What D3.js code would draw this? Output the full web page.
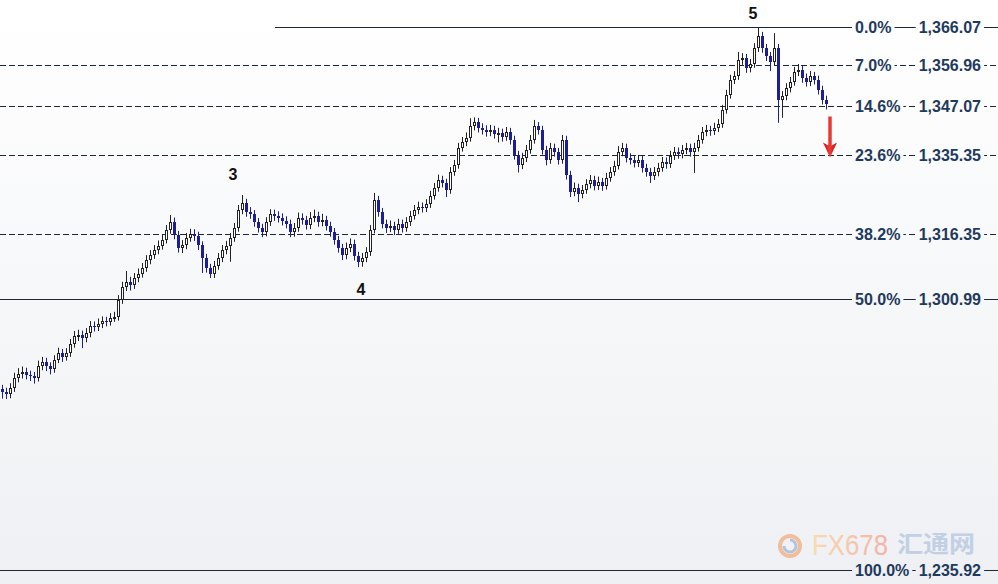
<!DOCTYPE html>
<html><head><meta charset="utf-8">
<script src="https://cdn.jsdelivr.net/npm/d3@7"></script>
<style>html,body{margin:0;padding:0;background:#fff;overflow:hidden}svg{display:block}</style>
</head><body><svg id="chart" width="998" height="584"></svg>
<script>
// ---- data ----
const firstOpen = 1279.2;
const closes = [1278.6,1278.1,1279.5,1281.9,1282.9,1283.4,1282.7,1282.4,1281.9,1284.8,
1285.8,1284.8,1284.1,1286.3,1287.9,1287.0,1287.9,1290.1,1292.0,1292.2,
1291.5,1292.7,1294.4,1294.2,1294.9,1295.6,1295.4,1296.3,1296.6,1300.6,
1303.8,1304.9,1304.2,1305.9,1306.9,1308.3,1310.2,1311.4,1312.6,1313.6,
1315.0,1317.4,1319.3,1316.2,1313.1,1313.8,1315.5,1316.5,1316.0,1313.8,
1310.7,1308.3,1306.9,1308.8,1310.7,1312.6,1313.6,1315.5,1317.9,1322.2,
1323.9,1321.7,1321.2,1319.3,1317.9,1316.9,1319.3,1321.2,1320.8,1320.3,
1319.6,1318.9,1316.9,1317.9,1320.3,1319.8,1318.6,1320.3,1320.8,1319.3,
1319.8,1318.4,1316.9,1315.0,1313.1,1311.4,1313.1,1314.1,1311.2,1309.7,
1310.7,1312.1,1317.4,1324.6,1321.7,1318.9,1317.9,1318.4,1317.4,1318.9,
1317.9,1319.3,1320.8,1322.2,1322.9,1322.7,1323.6,1325.6,1327.5,1329.4,
1328.7,1327.0,1331.3,1333.0,1337.1,1338.5,1339.5,1342.3,1343.3,1341.9,
1341.4,1340.9,1341.4,1340.4,1340.7,1339.7,1340.9,1339.0,1335.4,1333.0,
1334.7,1336.6,1339.0,1342.3,1341.4,1336.6,1334.2,1337.1,1336.1,1334.2,
1339.0,1330.6,1326.5,1327.5,1326.0,1327.0,1328.4,1329.4,1328.0,1328.9,
1328.0,1329.9,1331.3,1332.8,1336.1,1337.1,1334.7,1334.2,1333.5,1334.2,
1332.3,1331.3,1330.4,1331.3,1332.3,1333.7,1333.2,1335.2,1336.1,1335.6,
1336.6,1337.1,1336.1,1337.1,1339.0,1340.9,1341.4,1341.1,1341.9,1342.8,
1346.2,1349.8,1353.4,1354.3,1358.2,1358.6,1356.2,1357.2,1361.0,1363.9,
1361.0,1359.1,1357.7,1361.0,1348.6,1349.5,1351.4,1352.9,1355.3,1355.8,
1353.8,1352.9,1354.3,1353.4,1351.0,1348.6,1347.6];
const highs = [1280.3,1279.6,1280.7,1283.2,1284.3,1284.7,1284.4,1283.7,1283.4,1286.1,
1287.0,1286.8,1285.7,1287.4,1289.2,1288.9,1289.1,1291.3,1293.2,1293.5,
1293.3,1293.9,1295.6,1295.5,1296.2,1296.7,1296.6,1297.5,1297.8,1301.8,
1305.0,1307.6,1306.2,1307.1,1308.2,1309.5,1311.4,1312.6,1313.8,1314.9,
1316.3,1318.6,1321.0,1320.4,1317.2,1315.0,1316.7,1317.7,1317.6,1317.0,
1314.7,1311.7,1309.3,1310.0,1311.9,1313.8,1314.8,1316.7,1319.1,1323.4,
1325.8,1324.9,1322.9,1322.2,1320.3,1318.9,1320.5,1322.4,1322.3,1321.9,
1321.4,1320.7,1319.9,1319.1,1321.6,1321.4,1320.8,1321.7,1322.3,1321.8,
1321.3,1320.8,1319.4,1317.9,1316.0,1314.1,1314.4,1315.4,1315.1,1312.2,
1311.9,1313.3,1318.6,1326.3,1325.6,1322.7,1319.9,1319.7,1319.4,1320.1,
1319.9,1320.5,1322.0,1323.4,1324.2,1324.0,1324.8,1326.8,1328.7,1330.7,
1330.4,1329.7,1332.5,1334.2,1338.3,1339.7,1340.8,1344.2,1344.4,1344.3,
1343.0,1342.5,1342.6,1342.4,1341.9,1341.7,1342.1,1341.9,1340.0,1336.4,
1335.9,1337.8,1340.2,1343.8,1343.3,1342.4,1337.6,1338.3,1338.1,1337.1,
1340.2,1340.0,1331.6,1328.8,1328.5,1328.2,1329.6,1330.6,1330.4,1330.2,
1329.9,1331.1,1332.5,1334.0,1337.5,1338.3,1338.1,1335.8,1335.3,1335.4,
1335.2,1333.3,1332.3,1332.5,1333.5,1334.9,1334.8,1336.4,1337.3,1337.2,
1337.8,1338.3,1338.1,1338.3,1340.2,1342.1,1342.6,1342.4,1343.1,1344.0,
1347.4,1351.0,1354.6,1355.5,1360.1,1359.8,1359.6,1358.4,1362.2,1366.07,
1364.9,1362.0,1360.1,1364.6,1362.0,1350.7,1352.6,1354.1,1356.5,1357.2,
1356.8,1354.9,1355.5,1355.3,1354.4,1352.0,1349.6];
const lows = [1277.0,1276.9,1277.1,1278.6,1280.9,1281.8,1281.6,1281.2,1280.6,1281.1,
1283.8,1283.6,1282.8,1283.2,1285.5,1285.8,1286.1,1287.0,1289.2,1290.8,
1289.1,1290.5,1291.7,1293.1,1293.2,1293.9,1294.3,1294.5,1295.4,1295.7,
1299.7,1302.8,1302.9,1303.3,1304.9,1306.0,1307.4,1309.2,1310.5,1311.6,
1312.7,1314.2,1316.5,1315.2,1312.0,1311.9,1312.8,1314.6,1314.8,1312.6,
1307.1,1307.2,1305.9,1305.9,1307.9,1309.7,1311.6,1309.8,1314.6,1317.0,
1321.2,1320.6,1320.1,1318.2,1316.8,1315.7,1315.9,1318.4,1319.6,1319.2,
1318.5,1317.8,1315.7,1315.8,1317.0,1318.7,1317.5,1317.6,1319.3,1318.2,
1318.3,1317.3,1315.8,1313.9,1312.0,1310.2,1310.4,1312.1,1310.1,1308.5,
1308.6,1309.7,1311.2,1316.6,1320.6,1317.8,1316.7,1316.9,1316.2,1316.5,
1316.8,1317.0,1318.4,1319.9,1321.2,1321.6,1321.7,1322.7,1324.7,1326.6,
1327.6,1325.3,1326.1,1330.4,1332.1,1336.2,1337.5,1338.6,1341.3,1340.8,
1340.3,1339.8,1339.9,1339.3,1338.4,1338.6,1338.8,1337.9,1334.3,1331.2,
1332.0,1333.7,1335.7,1338.1,1340.3,1335.5,1332.9,1333.3,1335.0,1333.1,
1333.3,1329.5,1325.3,1325.5,1324.1,1325.0,1326.1,1327.4,1326.9,1327.0,
1326.8,1327.1,1329.0,1330.4,1331.9,1335.1,1333.6,1333.1,1332.4,1332.5,
1331.2,1330.2,1328.7,1329.4,1330.3,1331.4,1332.1,1332.3,1334.2,1334.5,
1334.6,1335.6,1335.0,1331.1,1336.2,1338.1,1339.9,1340.0,1340.2,1340.9,
1341.9,1345.3,1348.9,1352.4,1353.4,1357.0,1355.1,1355.2,1356.3,1360.1,
1359.9,1357.9,1355.5,1356.8,1343.1,1344.3,1348.5,1350.4,1352.0,1354.3,
1352.7,1351.8,1351.9,1352.3,1349.9,1347.5,1346.3];
const fibLabels = ["0.0%","7.0%","14.6%","23.6%","38.2%","50.0%","100.0%"];
const fibPrices = [1366.07,1356.96,1347.07,1335.35,1316.35,1300.99,1235.92];
const fibValueLabels = ["1,366.07","1,356.96","1,347.07","1,335.35","1,316.35","1,300.99","1,235.92"];
const waveNames = ["3","4","5"];
const waveCandles = [58,90,188];
const arrowPrices = [1344.6,1334.8];

// ---- build ----
const W = 998, H = 584;
const svg = d3.select("#chart");
const defs = svg.append("defs");
const bgTop = "#ffffff", bgBottom = "#eef0f3";
const bgGrad = defs.append("linearGradient").attr("id","bg").attr("x1",0).attr("y1",0).attr("x2",0).attr("y2",1);
bgGrad.append("stop").attr("offset",0).attr("stop-color",bgTop);
bgGrad.append("stop").attr("offset",1).attr("stop-color",bgBottom);
const bgAt = y => d3.interpolateRgb(bgTop,bgBottom)(y/H);
svg.append("rect").attr("width",W).attr("height",H).attr("fill","url(#bg)");

const N = closes.length;
const opens = closes.map((c,i)=> i===0 ? firstOpen : closes[i-1]);
const candles = closes.map((c,i)=>({i, o:opens[i], h:highs[i], l:lows[i], c}));

const x = d3.scaleLinear().domain([0,N-1]).range([2,826]);
const y = d3.scaleLinear().domain([fibPrices[6], fibPrices[0]]).range([570,27]);

// fib lines
const lineColor = "#1c2836";
const lineStart = [275,0,0,0,0,0,0];
const dashed = [false,true,true,true,true,false,false];
const gL = svg.append("g");
fibPrices.forEach((p,k)=>{
  const yy = Math.round(y(p))+0.5;
  gL.append("line").attr("x1",lineStart[k]).attr("x2",W).attr("y1",yy).attr("y2",yy)
    .attr("stroke",lineColor).attr("stroke-width",1)
    .attr("stroke-dasharray",dashed[k]?"6,3":null);
});

// candles
const bull = "#222222", bear = "#1d1d96";
const gC = svg.append("g");
candles.forEach(d=>{
  const cx = Math.round(x(d.i));
  const up = d.c >= d.o;
  const col = up ? bull : bear;
  gC.append("line").attr("x1",cx+0.5).attr("x2",cx+0.5)
    .attr("y1",y(d.h)).attr("y2",y(d.l)).attr("stroke",col).attr("stroke-width",1);
  const top = Math.round(y(Math.max(d.o,d.c)));
  const bot = Math.round(y(Math.min(d.o,d.c)));
  const hgt = Math.max(1,bot-top);
  if(up){
    gC.append("rect").attr("x",cx-0.5).attr("y",top+0.5).attr("width",2).attr("height",Math.max(1,hgt-1))
      .attr("fill","#ffffff").attr("stroke",bull).attr("stroke-width",1);
  } else {
    gC.append("rect").attr("x",cx-1).attr("y",top).attr("width",3).attr("height",hgt)
      .attr("fill",bear);
  }
});

// labels on lines
const labelColor = "#1f3a5c";
const gT = svg.append("g").attr("font-family","'Liberation Sans', Arial, sans-serif")
  .attr("font-weight","bold").attr("font-size","16px").attr("fill",labelColor);
fibPrices.forEach((p,k)=>{
  const yy = Math.round(y(p))+0.5;
  const t1 = gT.append("text").attr("x",855).attr("y",yy).attr("dy","0.36em").text(fibLabels[k]);
  const t2 = gT.append("text").attr("x",981).attr("y",yy).attr("dy","0.36em").attr("text-anchor","end").text(fibValueLabels[k]);
  [t1,t2].forEach(t=>{
    const b = t.node().getBBox();
    gT.insert("rect","text").attr("x",b.x-3).attr("y",yy-7).attr("width",b.width+6).attr("height",14)
      .attr("fill",bgAt(yy));
  });
});

// wave labels
const waveOffsets = [-21,22,-14];
const gW = svg.append("g").attr("font-family","'Liberation Sans', Arial, sans-serif")
  .attr("font-weight","bold").attr("font-size","16px").attr("fill","#111").attr("text-anchor","middle");
waveNames.forEach((nm,k)=>{
  const ci = waveCandles[k];
  const rng = d3.range(Math.max(0,ci-6),Math.min(N,ci+6));
  const py = waveOffsets[k] < 0 ? y(d3.max(rng,j=>highs[j])) : y(d3.min(rng,j=>lows[j]));
  gW.append("text").attr("x",x(ci)-1).attr("y",py+waveOffsets[k]).attr("dy","0.36em").text(nm);
});

// red arrow
const ag = defs.append("linearGradient").attr("id","arr").attr("x1",0).attr("x2",1).attr("y1",0).attr("y2",0);
ag.append("stop").attr("offset",0).attr("stop-color","#c4161c");
ag.append("stop").attr("offset",0.5).attr("stop-color","#ee3a32");
ag.append("stop").attr("offset",1).attr("stop-color","#b81218");
const ax = x(N-1)+4, ay1 = y(arrowPrices[0]), ay2 = y(arrowPrices[1]);
svg.append("path").attr("fill","url(#arr)")
  .attr("d",`M${ax-1.7},${ay1} L${ax+1.7},${ay1} L${ax+1.7},${ay2-12} L${ax+7},${ay2-15} L${ax},${ay2} L${ax-7},${ay2-15} L${ax-1.7},${ay2-12} Z`);

// watermark
const wm = svg.append("g").attr("opacity",0.85);
wm.append("circle").attr("cx",790).attr("cy",546).attr("r",10).attr("fill","none")
  .attr("stroke","#f2b48c").attr("stroke-width",4);
wm.append("path").attr("d","M784,546 A6,6 0 1 0 790,540").attr("fill","none").attr("stroke","#a9bcd8").attr("stroke-width",3);
const fg = defs.append("linearGradient").attr("id","fx").attr("x1",0).attr("x2",1).attr("y1",0).attr("y2",0);
fg.append("stop").attr("offset",0).attr("stop-color","#fbd8a2");
fg.append("stop").attr("offset",1).attr("stop-color","#f5a79d");
wm.append("text").attr("x",812).attr("y",555).attr("font-family","'Liberation Sans Narrow','Liberation Sans',Arial,sans-serif")
  .attr("font-size","30px").attr("textLength",76).attr("lengthAdjust","spacingAndGlyphs")
  .attr("fill","url(#fx)").text("FX678");
wm.append("text").attr("x",897).attr("y",552).attr("font-family","'Noto Sans CJK SC',sans-serif")
  .attr("font-size","23px").attr("font-weight","bold").attr("textLength",78).attr("lengthAdjust","spacingAndGlyphs")
  .attr("fill","#b9cbe3").text("汇通网");
</script></body></html>
